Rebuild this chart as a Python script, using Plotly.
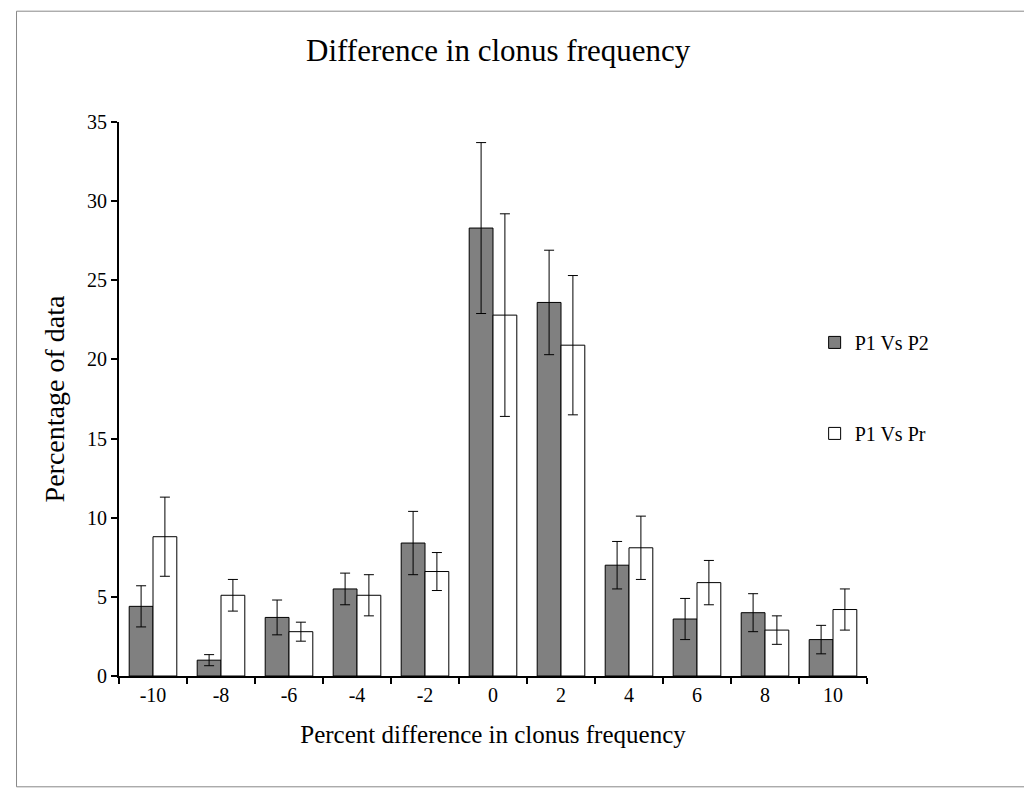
import plotly.graph_objects as go

cats = ["-10","-8","-6","-4","-2","0","2","4","6","8","10"]
p2 = [4.4,1.0,3.7,5.5,8.4,28.3,23.6,7.0,3.6,4.0,2.3]
p2_err = [1.3,0.35,1.1,1.0,2.0,5.4,3.3,1.5,1.3,1.2,0.9]
pr = [8.8,5.1,2.8,5.1,6.6,22.8,20.9,8.1,5.9,2.9,4.2]
pr_err = [2.5,1.0,0.6,1.3,1.2,6.4,4.4,2.0,1.4,0.9,1.3]

font = "Liberation Serif"
fig = go.Figure()
fig.add_bar(x=cats, y=p2, name="P1 Vs P2", legendgroup="a", marker=dict(color="#808080", line=dict(color="black", width=1)),
            error_y=dict(type="data", array=p2_err, color="black", thickness=1, width=5))
fig.add_bar(x=cats, y=pr, name="P1 Vs Pr", legendgroup="b", marker=dict(color="white", line=dict(color="black", width=1)),
            error_y=dict(type="data", array=pr_err, color="black", thickness=1, width=5))
fig.update_layout(
    width=1032, height=792, paper_bgcolor="white", plot_bgcolor="white",
    margin=dict(l=111, r=173, t=114, b=124),
    bargap=0.3, bargroupgap=0,
    font=dict(family=font, color="black", size=20),
    title=dict(text="Difference in clonus frequency", x=0.475, xanchor="center", y=0.96, font=dict(size=31)),
    legend=dict(x=0.93, y=0.52, yanchor="middle", traceorder="grouped", tracegroupgap=62,
                font=dict(size=20), bgcolor="rgba(0,0,0,0)"),
    shapes=[dict(type="rect", xref="paper", yref="paper", x0=-0.137, x1=1.22, y0=-0.2, y1=1.2,
                 line=dict(color="#888", width=1))],
)
fig.update_xaxes(showline=True, linecolor="black", linewidth=2, ticks="outside", tickson="boundaries",
                 ticklen=6, tickcolor="black", tickwidth=2, tickfont=dict(size=20),
                 title=dict(text="Percent difference in clonus frequency", font=dict(size=25), standoff=20))
fig.update_yaxes(range=[0,35], dtick=5, showline=True, linecolor="black", linewidth=2, ticks="outside",
                 ticklen=6, tickcolor="black", tickwidth=2, showgrid=False, zeroline=False,
                 tickfont=dict(size=20), title=dict(text="Percentage of data", font=dict(size=28), standoff=14))
fig.write_html("out.html")
